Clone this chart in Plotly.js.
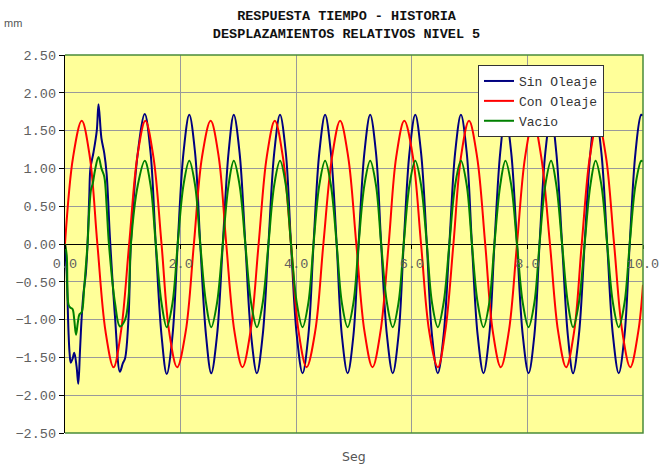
<!DOCTYPE html>
<html>
<head>
<meta charset="utf-8">
<script src="https://cdn.plot.ly/plotly-3.0.1.min.js"></script>
<style>
  html, body { margin: 0; padding: 0; background: #ffffff; }
  #chart { width: 666px; height: 466px; }
</style>
</head>
<body>
<div id="chart"></div>
<script>
// Respuesta tiempo - historia, desplazamientos relativos del nivel 5 (mm vs seg)

const seriesNames = ["Sin Oleaje", "Con Oleaje", "Vacio"];

// Sin Oleaje
const tSin = [
  0.00, 0.03, 0.06, 0.08, 0.10, 0.13, 0.16, 0.20, 0.23, 0.26, 0.29, 0.32, 0.36, 0.39,
  0.42, 0.44, 0.49, 0.55, 0.58, 0.63, 0.68, 0.72, 0.78, 0.865, 0.95, 1.00, 1.04, 1.10,
  1.14, 1.26,
  1.38, 1.48, 1.57, 1.67, 1.76, 1.86, 1.95, 2.05, 2.15, 2.25, 2.34, 2.44, 2.53, 2.63,
  2.73, 2.83, 2.92, 3.02, 3.12, 3.22, 3.32, 3.42, 3.52, 3.62, 3.72, 3.82, 3.91, 4.01,
  4.11, 4.21, 4.30, 4.40, 4.50, 4.60, 4.70, 4.79, 4.89, 4.99, 5.08, 5.18, 5.28, 5.38,
  5.47, 5.57, 5.67, 5.77, 5.86, 5.96, 6.06, 6.16, 6.26, 6.35, 6.45, 6.55, 6.65, 6.75,
  6.85, 6.95, 7.04, 7.14, 7.24, 7.34, 7.43, 7.53, 7.62, 7.72, 7.82, 7.92, 8.02, 8.12,
  8.21, 8.31, 8.41, 8.50, 8.60, 8.70, 8.79, 8.89, 8.99, 9.09, 9.18, 9.28, 9.38, 9.48,
  9.58, 9.68, 9.77, 9.87, 9.97, 10.00
];
const sinOleaje = [
  0.00, -0.40, -1.15, -1.45, -1.57, -1.52, -1.44, -1.62, -1.85, -1.40, -0.95, -0.65, -0.39, 0.00,
  0.63, 1.00, 1.20, 1.50, 1.85, 1.40, 1.20, 0.93, 0.05, -0.96, -1.69, -1.58, -1.51, -0.96,
  0.00, 1.21,
  1.72, 1.21, 0.00, -1.21, -1.72, -1.21, 0.00, 1.21, 1.71, 1.21, 0.00, -1.21, -1.71, -1.21,
  0.00, 1.21, 1.71, 1.21, 0.00, -1.21, -1.71, -1.21, 0.00, 1.21, 1.71, 1.21, 0.00, -1.21,
  -1.71, -1.21, 0.00, 1.21, 1.71, 1.21, 0.00, -1.21, -1.71, -1.21, 0.00, 1.21, 1.71, 1.21,
  0.00, -1.21, -1.71, -1.21, 0.00, 1.21, 1.71, 1.21, 0.00, -1.21, -1.71, -1.21, 0.00, 1.21,
  1.71, 1.21, 0.00, -1.21, -1.71, -1.21, 0.00, 1.21, 1.71, 1.21, 0.00, -1.21, -1.71, -1.21,
  0.00, 1.21, 1.71, 1.21, 0.00, -1.21, -1.71, -1.21, 0.00, 1.21, 1.71, 1.21, 0.00, -1.21,
  -1.71, -1.21, 0.00, 1.21, 1.71, 1.70
];

// Con Oleaje
const tCon = [
  0.00, 0.14, 0.29, 0.43, 0.56, 0.70, 0.84, 0.97, 1.11, 1.25, 1.39, 1.53, 1.67, 1.80,
  1.94, 2.09, 2.23, 2.37, 2.52, 2.66, 2.79, 2.93, 3.07, 3.21, 3.35, 3.49, 3.63, 3.77,
  3.91, 4.04, 4.18, 4.33, 4.47, 4.62, 4.76, 4.90, 5.04, 5.18, 5.32, 5.46, 5.60, 5.73,
  5.87, 6.02, 6.16, 6.30, 6.45, 6.58, 6.72, 6.85, 6.99, 7.13, 7.27, 7.40, 7.54, 7.68,
  7.82, 7.96, 8.10, 8.24, 8.39, 8.53, 8.67, 8.81, 8.94, 9.08, 9.22, 9.36, 9.50, 9.64,
  9.78, 9.92, 10.00
];
const conOleaje = [
  0.00, 1.15, 1.63, 1.15, 0.00, -1.15, -1.63, -1.15, 0.00, 1.15, 1.63, 1.15, 0.00, -1.15,
  -1.63, -1.15, 0.00, 1.15, 1.63, 1.15, 0.00, -1.15, -1.63, -1.15, 0.00, 1.15, 1.63, 1.15,
  0.00, -1.15, -1.63, -1.15, 0.00, 1.15, 1.63, 1.15, 0.00, -1.15, -1.63, -1.15, 0.00, 1.15,
  1.63, 1.15, 0.00, -1.15, -1.63, -1.15, 0.00, 1.15, 1.63, 1.15, 0.00, -1.15, -1.63, -1.15,
  0.00, 1.15, 1.63, 1.15, 0.00, -1.15, -1.63, -1.15, 0.00, 1.15, 1.63, 1.15, 0.00, -1.15,
  -1.63, -1.15, -0.54
];

// Vacio
const tVac = [
  0.00, 0.03, 0.06, 0.09, 0.13, 0.16, 0.19, 0.22, 0.25, 0.29, 0.33, 0.36, 0.39, 0.42,
  0.45, 0.48, 0.52, 0.58, 0.63, 0.68, 0.72, 0.76, 0.865, 0.95, 1.04, 1.10, 1.14, 1.26,
  1.38, 1.48, 1.57, 1.67, 1.76, 1.86, 1.95, 2.05, 2.15, 2.25, 2.34, 2.44, 2.53, 2.63,
  2.73, 2.83, 2.92, 3.02, 3.12, 3.22, 3.32, 3.42, 3.52, 3.62, 3.72, 3.82, 3.91, 4.01,
  4.11, 4.21, 4.30, 4.40, 4.50, 4.60, 4.70, 4.79, 4.89, 4.99, 5.08, 5.18, 5.28, 5.38,
  5.47, 5.57, 5.67, 5.77, 5.86, 5.96, 6.06, 6.16, 6.26, 6.35, 6.45, 6.55, 6.65, 6.75,
  6.85, 6.95, 7.04, 7.14, 7.24, 7.34, 7.43, 7.53, 7.62, 7.72, 7.82, 7.92, 8.02, 8.12,
  8.21, 8.31, 8.41, 8.50, 8.60, 8.70, 8.79, 8.89, 8.99, 9.09, 9.18, 9.28, 9.38, 9.48,
  9.58, 9.68, 9.77, 9.87, 9.97, 10.00
];
const vacio = [
  0.00, -0.15, -0.80, -0.84, -0.86, -1.00, -1.20, -1.05, -0.93, -0.90, -0.60, -0.30, 0.00, 0.45,
  0.72, 0.80, 0.98, 1.15, 1.00, 0.89, 0.50, 0.00, -0.78, -1.09, -1.00, -0.70, 0.00, 0.78,
  1.10, 0.78, 0.00, -0.78, -1.10, -0.78, 0.00, 0.78, 1.10, 0.78, 0.00, -0.78, -1.10, -0.78,
  0.00, 0.78, 1.10, 0.78, 0.00, -0.78, -1.10, -0.78, 0.00, 0.78, 1.10, 0.78, 0.00, -0.78,
  -1.10, -0.78, 0.00, 0.78, 1.10, 0.78, 0.00, -0.78, -1.10, -0.78, 0.00, 0.78, 1.10, 0.78,
  0.00, -0.78, -1.10, -0.78, 0.00, 0.78, 1.10, 0.78, 0.00, -0.78, -1.10, -0.78, 0.00, 0.78,
  1.10, 0.78, 0.00, -0.78, -1.10, -0.78, 0.00, 0.78, 1.10, 0.78, 0.00, -0.78, -1.10, -0.78,
  0.00, 0.78, 1.10, 0.78, 0.00, -0.78, -1.10, -0.78, 0.00, 0.78, 1.10, 0.78, 0.00, -0.78,
  -1.10, -0.78, 0.00, 0.78, 1.10, 1.09
];

// Axis ticks
const xTicks = [0, 2, 4, 6, 8, 10];
const yTicks = [-2.5, -2.0, -1.5, -1.0, -0.5, 0.0, 0.5, 1.0, 1.5, 2.0, 2.5];

const mono = "Liberation Mono, Courier New, monospace";
const tickGray = "#606060";

function line(name, x, y, color, xaxis) {
  return {
    type: "scatter", mode: "lines", name: name, x: x, y: y, xaxis: xaxis, yaxis: "y",
    line: { color: color, width: 2, shape: "spline", smoothing: 1 },
    hoverinfo: "x+y+name"
  };
}

const traces = [
  line(seriesNames[0], tSin, sinOleaje, "#000080", "x"),
  line(seriesNames[1], tCon, conOleaje, "#ff0000", "x"),
  line(seriesNames[2], tVac, vacio, "#008000", "x2")
];

const layout = {
  width: 666, height: 466,
  margin: { l: 65, r: 23, t: 55, b: 33, pad: 0 },
  paper_bgcolor: "#ffffff",
  plot_bgcolor: "#ffff99",
  showlegend: true,
  title: {
    text: "<b>RESPUESTA TIEMPO - HISTORIA<br>DESPLAZAMIENTOS RELATIVOS NIVEL 5</b>",
    font: { family: mono, size: 13.5, color: "#111111" },
    x: 0.5203, xanchor: "center", xref: "container",
    y: 0.957, yanchor: "middle", yref: "container"
  },
  xaxis: {
    range: [0, 10], tickvals: xTicks, showticklabels: false, ticks: "",
    showgrid: true, gridcolor: "#9a9a9a", gridwidth: 1,
    zeroline: false, showline: false, fixedrange: true,
    title: { text: "" }
  },
  xaxis2: {
    overlaying: "x", matches: "x", anchor: "free", position: 0.5,
    range: [0, 10], tickvals: xTicks, tickformat: ".1f",
    ticks: "outside", ticklen: 4, tickcolor: "#000000", tickwidth: 1,
    ticklabelstandoff: 3,
    tickfont: { family: mono, size: 13.5, color: tickGray },
    showgrid: false, zeroline: false, showline: false
  },
  yaxis: {
    range: [-2.5, 2.5], tickvals: yTicks, tickformat: ".2f",
    ticks: "outside", ticklen: 5, tickcolor: "#000000",
    tickfont: { family: mono, size: 13.5, color: tickGray },
    showgrid: true, gridcolor: "#9a9a9a", gridwidth: 1,
    zeroline: true, zerolinecolor: "#000000", zerolinewidth: 1,
    showline: true, linecolor: "#000000", linewidth: 1.3
  },
  legend: {
    x: 0.7145, xanchor: "left", y: 0.9735, yanchor: "top",
    bgcolor: "#ffffff", bordercolor: "#333333", borderwidth: 1,
    font: { family: mono, size: 13, color: "#333333" },
    itemwidth: 30, tracegroupgap: 0
  },
  shapes: [{
    type: "path", xref: "paper", yref: "paper",
    path: "M0,1 L1,1 L1,0 L0,0",
    line: { color: "#4a8c3a", width: 1.5 }, layer: "above"
  }],
  annotations: [
    {
      text: "mm", xref: "paper", yref: "paper", x: -0.09, y: 1.085,
      xanchor: "center", yanchor: "middle", showarrow: false,
      font: { family: "Liberation Sans, Arial, sans-serif", size: 11, color: "#555555" }
    },
    {
      text: "Seg", xref: "paper", yref: "paper", x: 0.5, y: -0.061,
      xanchor: "center", yanchor: "middle", showarrow: false,
      font: { family: "DejaVu Sans, Verdana, sans-serif", size: 12.5, color: "#555555" }
    }
  ]
};

Plotly.newPlot("chart", traces, layout, { displayModeBar: false, staticPlot: true });
</script>
</body>
</html>
